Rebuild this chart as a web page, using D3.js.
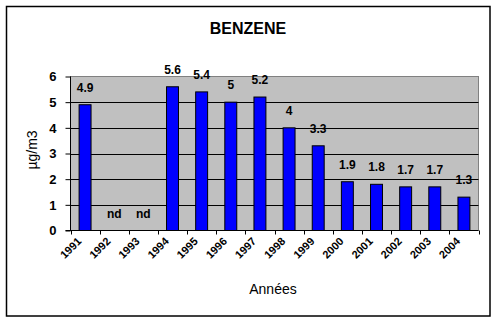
<!DOCTYPE html>
<html>
<head>
<meta charset="utf-8">
<script src="https://cdn.jsdelivr.net/npm/d3@7"></script>
<style>
body { margin: 0; background: #fff; }
svg text { font-family: Arial, "Liberation Sans", sans-serif; }
</style>
</head>
<body>
<script>
// benzene yearly means, null = no data ("nd")
var years = ["1991","1992","1993","1994","1995","1996","1997","1998","1999","2000","2001","2002","2003","2004"];
var values = [4.9, null, null, 5.6, 5.4, 5, 5.2, 4, 3.3, 1.9, 1.8, 1.7, 1.7, 1.3];
var yTicks = [0, 1, 2, 3, 4, 5, 6];

var W = 496, H = 323;
var pLeft = 70.5, pRight = 478.5, pTop = 76.5, pBottom = 230.5;

var svg = d3.select("body").append("svg")
    .attr("width", W)
    .attr("height", H);

// outer frame
svg.append("rect")
    .attr("x", 6.5).attr("y", 6.5)
    .attr("width", 483.5).attr("height", 309.5)
    .attr("fill", "#fff")
    .attr("stroke", "#000")
    .attr("stroke-width", 1.5);

var x = d3.scaleBand().domain(years).range([pLeft, pRight]).padding(0);
var y = d3.scaleLinear().domain([0, 6]).range([pBottom, pTop]);

// plot background
svg.append("rect")
    .attr("x", pLeft).attr("y", pTop)
    .attr("width", pRight - pLeft).attr("height", pBottom - pTop)
    .attr("fill", "#c0c0c0")
    .attr("stroke", "#808080")
    .attr("stroke-width", 1);

// gridlines
svg.selectAll(".grid")
    .data(yTicks.filter(function(d) { return d > 0 && d < 6; }))
    .enter().append("line")
    .attr("x1", pLeft).attr("x2", pRight)
    .attr("y1", function(d) { return Math.round(y(d)) + 0.5; })
    .attr("y2", function(d) { return Math.round(y(d)) + 0.5; })
    .attr("stroke", "#000");

var bw = x.bandwidth() * 0.41;

svg.selectAll(".bar")
    .data(years.filter(function(d, i) { return values[i] != null; }))
    .enter().append("rect")
    .attr("x", function(d) { return x(d) + (x.bandwidth() - bw) / 2; })
    .attr("y", function(d) { return y(values[years.indexOf(d)]); })
    .attr("width", bw)
    .attr("height", function(d) { return pBottom - y(values[years.indexOf(d)]); })
    .attr("fill", "#0000ff")
    .attr("stroke", "#000")
    .attr("stroke-width", 1);

// value labels
svg.selectAll(".lbl")
    .data(years)
    .enter().append("text")
    .attr("x", function(d) { return x(d) + x.bandwidth() / 2; })
    .attr("y", function(d, i) { return y(values[i] == null ? 0 : values[i]) - 13; })
    .attr("text-anchor", "middle")
    .attr("font-size", 12)
    .attr("font-weight", "bold")
    .text(function(d, i) { return values[i] == null ? "nd" : values[i]; });

// y axis
var yAxis = d3.axisLeft(y).tickValues(yTicks).tickFormat(d3.format("d")).tickSize(5).tickPadding(9);
var gy = svg.append("g").attr("transform", "translate(" + pLeft + ",0)").call(yAxis);
gy.select(".domain").attr("stroke", "#000").attr("d", "M0," + pTop + "V" + pBottom);
gy.selectAll("text")
    .attr("font-size", 13)
    .attr("font-weight", "bold")
    .attr("font-family", "Arial, 'Liberation Sans', sans-serif");

// x axis: ticks at category boundaries
svg.append("line")
    .attr("x1", pLeft - 5).attr("x2", pRight)
    .attr("y1", pBottom).attr("y2", pBottom)
    .attr("stroke", "#000");
svg.selectAll(".xt")
    .data(years.concat(["end"]))
    .enter().append("line")
    .attr("x1", function(d, i) { return Math.round(pLeft + i * x.step()) + 0.5; })
    .attr("x2", function(d, i) { return Math.round(pLeft + i * x.step()) + 0.5; })
    .attr("y1", pBottom).attr("y2", pBottom + 4)
    .attr("stroke", "#000");

svg.selectAll(".xl")
    .data(years)
    .enter().append("text")
    .attr("transform", function(d) {
        return "translate(" + (x(d) + x.bandwidth() / 2 - 3) + "," + 242 + ") rotate(-45)";
    })
    .attr("text-anchor", "end")
    .attr("font-size", 11)
    .attr("font-weight", "bold")
    .text(function(d) { return d; });

// titles
svg.append("text")
    .attr("x", 248).attr("y", 34)
    .attr("text-anchor", "middle")
    .attr("font-size", 16)
    .attr("font-weight", "bold")
    .text("BENZENE");

svg.append("text")
    .attr("x", 273).attr("y", 294)
    .attr("text-anchor", "middle")
    .attr("font-size", 14)
    .text("Années");

svg.append("text")
    .attr("transform", "translate(37,150) rotate(-90)")
    .attr("text-anchor", "middle")
    .attr("font-size", 14)
    .text("µg/m3");
</script>
</body>
</html>
